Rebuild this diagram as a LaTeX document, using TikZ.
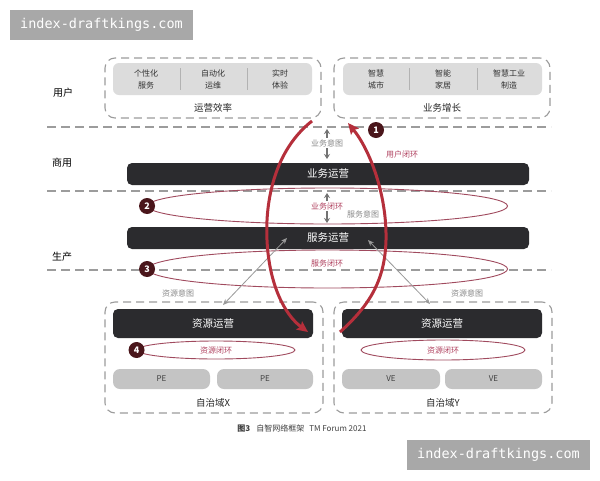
\documentclass[tikz,border=0pt]{standalone}
\usepackage{fontspec}
\setmainfont{Noto Sans CJK SC}
\newfontfamily\wmfont{DejaVu Sans Mono}
\usetikzlibrary{arrows.meta,shapes.geometric}
\definecolor{barblack}{HTML}{2B2B2E}
\definecolor{cellgray}{HTML}{DCDCDC}
\definecolor{pegray}{HTML}{C4C4C4}
\definecolor{dashgray}{HTML}{9C9C9C}
\definecolor{loopred}{HTML}{B52F3B}
\definecolor{ringred}{HTML}{A04A5E}
\definecolor{labelred}{HTML}{B0415F}
\definecolor{numfill}{HTML}{4A161B}
\definecolor{intentgray}{HTML}{8A8A8A}
\definecolor{wmgray}{HTML}{A8A8A8}
\begin{document}
\begin{tikzpicture}[x=1pt,y=-1pt,
 hline/.style={draw=dashgray, line width=1.2pt, dash pattern=on 9pt off 5pt},
 domainbox/.style={draw=dashgray, line width=1.1pt, dash pattern=on 8pt off 5pt, rounded corners=10pt, inner sep=0pt},
 cellbox/.style={fill=cellgray, rounded corners=6pt, inner sep=0pt},
 barbox/.style={fill=barblack, rounded corners=5pt, text=white, inner sep=0pt, font=\fontsize{10.5}{12}\selectfont},
 pebox/.style={fill=pegray, rounded corners=7pt, inner sep=0pt, minimum height=20pt, text=black!75, font=\fontsize{8}{9}\selectfont},
 celltext/.style={align=center, font=\fontsize{8}{12}\selectfont, text=black!80},
 sepline/.style={draw=black!30, line width=0.6pt},
 lvl/.style={font=\fontsize{10}{12}\selectfont},
 boxlab/.style={font=\fontsize{9.5}{11}\selectfont, text=black!85},
 redlab/.style={text=labelred, font=\fontsize{8}{9}\selectfont},
 graylab/.style={text=intentgray, font=\fontsize{8}{9}\selectfont},
 ring/.style={ellipse, draw=ringred, line width=0.9pt, inner sep=0pt},
 numdot/.style={circle, fill=numfill, text=white, minimum size=16pt, inner sep=0pt, font=\bfseries\fontsize{9}{10}\selectfont},
 intent/.style={draw=black!55, line width=1.4pt, {Stealth[length=5pt,width=6pt]}-{Stealth[length=5pt,width=6pt]}},
 resarrow/.style={draw=black!40, line width=0.8pt, {Stealth[length=6pt,width=5pt]}-{Stealth[length=6pt,width=5pt]}},
 bigloop/.style={draw=loopred, line width=3pt},
 wm/.style={fill=wmgray, text=white, minimum width=183pt, minimum height=30pt, inner sep=0pt, font=\wmfont\fontsize{13.5}{14}\selectfont}
]
\fill[white] (0,0) rectangle (600,480);
\useasboundingbox (0,0) rectangle (600,480);

% watermarks
\node[wm] (wm1) at (101.5,25) {index-draftkings.com};
\node[wm] (wm2) at (498.5,455) {index-draftkings.com};

% horizontal level lines
\draw[hline] (47,127) -- (551,127);
\draw[hline] (47,191) -- (551,191);
\draw[hline] (47,270) -- (551,270);

% level labels
\node[lvl] (lvuser) at (63,93) {用户};
\node[lvl] (lvbiz) at (62,163) {商用};
\node[lvl] (lvprod) at (62,257) {生产};

% top left box
\node[domainbox, minimum width=216pt, minimum height=60pt] (topL) at (213,88) {};
\node[cellbox, minimum width=199pt, minimum height=32pt] (cellL) at (212.5,79) {};
\draw[sepline] (180,68) -- (180,90);
\draw[sepline] (247,68) -- (247,90);
\node[celltext] (c1) at (146,79) {个性化\\服务};
\node[celltext] (c2) at (213,79) {自动化\\运维};
\node[celltext] (c3) at (280,79) {实时\\体验};
\node[boxlab] (effic) at (213,108) {运营效率};

% top right box
\node[domainbox, minimum width=216pt, minimum height=60pt] (topR) at (442,88) {};
\node[cellbox, minimum width=199pt, minimum height=32pt] (cellR) at (442.5,79) {};
\draw[sepline] (409,68) -- (409,90);
\draw[sepline] (477,68) -- (477,90);
\node[celltext] (c4) at (376,79) {智慧\\城市};
\node[celltext] (c5) at (443,79) {智能\\家居};
\node[celltext] (c6) at (509,79) {智慧工业\\制造};
\node[boxlab] (growth) at (442,108) {业务增长};

% rings
\node[ring, minimum width=360pt, minimum height=36pt] (ring2) at (327.5,206) {};
\node[ring, minimum width=360pt, minimum height=38pt] (ring3) at (327.5,269) {};

% bars
\node[barbox, minimum width=402pt, minimum height=22pt] (bizbar) at (328,174) {业务运营};
\node[barbox, minimum width=402pt, minimum height=22pt] (svcbar) at (328,238) {服务运营};

% bottom domains
\node[domainbox, minimum width=218pt, minimum height=111pt] (domX) at (214,357.5) {};
\node[domainbox, minimum width=218pt, minimum height=111pt] (domY) at (443,357.5) {};
\node[barbox, minimum width=200pt, minimum height=29pt] (resX) at (213,323.5) {资源运营};
\node[barbox, minimum width=200pt, minimum height=29pt] (resY) at (442,323.5) {资源运营};
\node[ring, minimum width=158pt, minimum height=18pt] (ring4) at (216,350) {};
\node[ring, minimum width=164pt, minimum height=20pt] (ring5) at (443,350) {};
\node[redlab] (rl4) at (216,350) {资源闭环};
\node[redlab] (rl5) at (443,350) {资源闭环};
\node[pebox, minimum width=97pt] (pe1) at (161.5,379) {PE};
\node[pebox, minimum width=96pt] (pe2) at (265,379) {PE};
\node[pebox, minimum width=98pt] (ve1) at (391,379) {VE};
\node[pebox, minimum width=97pt] (ve2) at (493.5,379) {VE};
\node[boxlab] (labX) at (213,403) {自治域X};
\node[boxlab] (labY) at (443,403) {自治域Y};

% intent arrows
\coordinate (bi1) at (327,129);
\coordinate (bi2) at (327,159);
\draw[intent] (bi1) -- (bi2);
\node[graylab, fill=white, inner sep=1pt] (bizint) at (327,143) {业务意图};
\coordinate (bl1) at (327,193);
\coordinate (bl2) at (327,223);
\draw[intent] (bl1) -- (bl2);
\node[redlab, fill=white, inner sep=1pt] (bizloop) at (327,206) {业务闭环};
\node[graylab] (svcint) at (363,214) {服务意图};
\node[redlab] (svcloop) at (327,263) {服务闭环};

% resource intent arrows
\coordinate (ra1) at (223,305);
\coordinate (ra2) at (287,238);
\coordinate (rb1) at (430,304);
\coordinate (rb2) at (368,240);
\draw[resarrow] (ra1) -- (ra2);
\draw[resarrow] (rb1) -- (rb2);
\node[graylab] (resintL) at (178,293) {资源意图};
\node[graylab] (resintR) at (467,293) {资源意图};

% big user loop
\coordinate (la0) at (312,121);
\coordinate (la1) at (267,240);
\coordinate (la2) at (308,332);
\coordinate (lb0) at (340,332);
\coordinate (lb1) at (386,240);
\coordinate (lb2) at (348,123);
\draw[bigloop, -{Stealth[length=11pt,width=10pt,inset=2pt]}] (la0) .. controls (275,150) and (265,200) .. (la1) .. controls (269,285) and (285,315) .. (la2);
\draw[bigloop, -{Stealth[length=11pt,width=10pt,inset=2pt]}] (lb0) .. controls (370,305) and (385,280) .. (lb1) .. controls (387,195) and (370,150) .. (lb2);
\node[redlab] (userloop) at (402,154) {用户闭环};

% numbered markers
\node[numdot] (n1) at (376,130) {1};
\node[numdot] (n2) at (ring2.west) {2};
\node[numdot] (n3) at (ring3.west) {3};
\node[numdot] (n4) at (ring4.west) {4};

% caption
\node[font=\fontsize{8}{9}\selectfont, text=black!75] (cap) at (302,428) {{\bfseries 图3}\hspace{6pt}自智网络框架\hspace{5pt}TM Forum 2021};
\end{tikzpicture}
\end{document}
